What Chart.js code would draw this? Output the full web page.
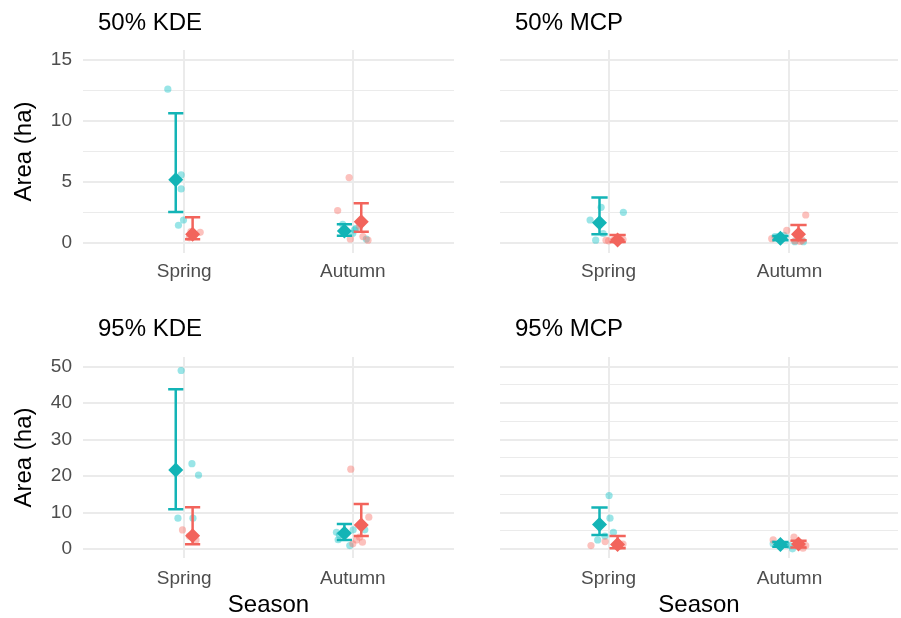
<!DOCTYPE html>
<html>
<head>
<meta charset="utf-8">
<script src="https://cdn.jsdelivr.net/npm/chart.js@4/dist/chart.umd.min.js"></script>
<style>
  body { margin: 0; background: #fff; }
  canvas { position: absolute; }
</style>
</head>
<body>
<canvas id="p0" width="460" height="300" style="left:0;top:0"></canvas>
<canvas id="p1" width="441" height="300" style="left:460px;top:0"></canvas>
<canvas id="p2" width="460" height="318" style="left:0;top:300px"></canvas>
<canvas id="p3" width="441" height="318" style="left:460px;top:300px"></canvas>
<script>
const seasons = ['Spring', 'Autumn']
const panelTitles = ['50% KDE', '50% MCP', '95% KDE', '95% MCP']

// individual values per panel, [spring, autumn]
const tealPts = [
  [[12.6, 5.56, 4.41, 1.86, 1.43], [1.18, 0.77, 0.3, 1.05, 1.5]],
  [[2.9, 1.86, 2.49, 0.2, 0.75], [0.08, 0.08, 0.5, 0.6, 0.5]],
  [[48.9, 23.4, 20.3, 8.5, 8.5], [4.65, 2.6, 1.0, 5.3, 5.3, 3.9]],
  [[14.7, 8.5, 4.65, 2.55, 3.6], [0.1, 1.5, 1.8, 1.2, 1.0]]
]
const tealJit = [
  [[-0.097, -0.018, -0.018, -0.004, -0.034], [0.02, 0.0, 0.08, 0.01, -0.06]],
  [[-0.041, -0.102, 0.082, -0.071, -0.03], [0.077, 0.03, -0.06, -0.03, -0.08]],
  [[-0.018, 0.046, 0.085, -0.037, 0.052], [-0.097, -0.087, -0.018, 0.002, 0.071, -0.08]],
  [[0.003, 0.008, 0.027, -0.06, -0.02], [0.017, -0.09, -0.05, -0.02, 0.0]]
]
const redPts = [
  [[0.85, 0.6, 0.4, 0.9], [5.34, 2.63, 0.3, 0.5, 0.2, 1.35]],
  [[0.2, 0.15, 0.3, 0.25, 0.22], [2.27, 0.33, 1.0, 0.1, 0.15, 0.2]],
  [[5.28, 3.5, 2.5, 3.6, 3.6], [21.9, 8.76, 1.92, 2.55, 1.5, 3.3]],
  [[1.0, 2.1, 0.8, 1.4, 1.2], [3.3, 2.55, 0.27, 1.5, 1.0]]
]
const redJit = [
  [[0.095, 0.06, 0.03, 0.04], [-0.022, -0.09, -0.015, 0.06, 0.09, 0.04]],
  [[-0.014, 0.0, 0.05, 0.08, 0.03], [0.09, -0.098, -0.015, 0.06, 0.03, 0.07]],
  [[-0.01, 0.05, 0.07, 0.03, 0.06], [-0.012, 0.095, 0.057, 0.022, 0.0, 0.04]],
  [[-0.097, -0.019, 0.06, 0.08, 0.04], [0.025, -0.09, 0.075, 0.05, 0.09]]
]

// means and intervals, [spring, autumn]
const tealMean = [[5.17, 0.96], [1.64, 0.36], [21.7, 4.35], [6.8, 1.3]]
const tealLo = [[2.52, 0.57], [0.69, 0.2], [10.95, 2.55], [3.9, 0.7]]
const tealHi = [[10.62, 1.51], [3.7, 0.55], [43.8, 6.93], [11.4, 2.0]]
const redMean = [[0.69, 1.72], [0.22, 0.68], [3.7, 6.65], [1.3, 1.4]]
const redLo = [[0.28, 0.9], [0.05, 0.2], [1.37, 3.64], [0.3, 0.5]]
const redHi = [[2.08, 3.23], [0.63, 1.45], [11.5, 12.4], [3.64, 2.35]]

const yTicksTop = [0, 2.5, 5, 7.5, 10, 12.5, 15]
const yTicksBottom = [0, 5, 10, 15, 20, 25, 30, 35, 40, 45, 50]

const TEAL = '#13B4B6'
const RED = '#F2645C'
const TEAL_A = 'rgba(0,191,196,0.4)'
const RED_A = 'rgba(248,118,109,0.45)'
const DODGE = 0.05
const CAP = 0.045

Chart.defaults.font.family = '"Liberation Sans", Arial, sans-serif'

function pointData(pts, jit, p){
  const out = []
  for (let s = 0; s < 2; s++) {
    pts[p][s].forEach((v, j) => out.push({x: s + 1 + jit[p][s][j], y: v}))
  }
  return out
}

function barData(lo, hi, p, dx){
  const out = []
  for (let s = 0; s < 2; s++) {
    const x = s + 1 + dx
    out.push({x: x, y: lo[p][s]}, {x: x, y: hi[p][s]}, {x: x, y: null})
    out.push({x: x - CAP, y: hi[p][s]}, {x: x + CAP, y: hi[p][s]}, {x: x, y: null})
    out.push({x: x - CAP, y: lo[p][s]}, {x: x + CAP, y: lo[p][s]}, {x: x, y: null})
  }
  return out
}

function meanData(mean, p, dx){
  return [{x: 1 + dx, y: mean[p][0]}, {x: 2 + dx, y: mean[p][1]}]
}

const titlePlugin = {
  id: 'panelTitle',
  afterDraw(chart, args, opts){
    const ctx = chart.ctx
    ctx.save()
    ctx.font = '24px "Liberation Sans", Arial, sans-serif'
    ctx.fillStyle = '#000'
    ctx.textBaseline = 'alphabetic'
    ctx.fillText(opts.text, chart.chartArea.left + 15, opts.baseline)
    ctx.restore()
  }
}

function makePanel(p){
  const left = p % 2 === 0
  const bottom = p >= 2
  const yTicks = bottom ? yTicksBottom : yTicksTop
  const major = bottom ? 10 : 5

  new Chart(document.getElementById('p' + p), {
    type: 'scatter',
    data: {
      datasets: [
        {data: pointData(tealPts, tealJit, p), backgroundColor: TEAL_A, borderWidth: 0, pointRadius: 3.6, order: 10},
        {data: pointData(redPts, redJit, p), backgroundColor: RED_A, borderWidth: 0, pointRadius: 3.6, order: 9},
        {data: barData(tealLo, tealHi, p, -DODGE), showLine: true, spanGaps: false, borderColor: TEAL, borderWidth: 2.5, borderCapStyle: 'butt', pointRadius: 0, order: 4},
        {data: meanData(tealMean, p, -DODGE), pointStyle: 'rectRot', pointRadius: 7.5, backgroundColor: TEAL, borderWidth: 0, order: 3},
        {data: barData(redLo, redHi, p, DODGE), showLine: true, spanGaps: false, borderColor: RED, borderWidth: 2.5, borderCapStyle: 'butt', pointRadius: 0, order: 2},
        {data: meanData(redMean, p, DODGE), pointStyle: 'rectRot', pointRadius: 7.5, backgroundColor: RED, borderWidth: 0, order: 1}
      ]
    },
    options: {
      responsive: false,
      animation: false,
      layout: {
        autoPadding: false,
        padding: {top: bottom ? 57 : 50, right: left ? 6 : 3, left: 0, bottom: 0}
      },
      plugins: {
        legend: {display: false},
        tooltip: {enabled: false},
        panelTitle: {text: panelTitles[p], baseline: bottom ? 36 : 30}
      },
      scales: {
        x: {
          type: 'linear',
          min: 0.4,
          max: 2.6,
          afterBuildTicks: s => { s.ticks = [{value: 1}, {value: 2}] },
          afterFit: s => { s.height = bottom ? 60 : 47 },
          ticks: {
            callback: v => seasons[Math.round(v) - 1],
            color: '#4d4d4d',
            font: {size: 19},
            padding: bottom ? 9 : 7,
            maxRotation: 0,
            autoSkip: false
          },
          grid: {color: '#EBEBEB', lineWidth: 2, drawTicks: false},
          border: {display: false},
          title: {
            display: bottom,
            text: 'Season',
            color: '#000',
            font: {size: 24, lineHeight: 1},
            padding: {top: 0, bottom: 1}
          }
        },
        y: {
          min: bottom ? -2.4 : -0.85,
          max: bottom ? 52.6 : 15.82,
          afterBuildTicks: s => { s.ticks = yTicks.map(v => ({value: v})) },
          afterFit: s => { s.width = left ? 83 : 40 },
          ticks: {
            display: left,
            callback: v => (v % major === 0 ? v : ''),
            color: '#4d4d4d',
            font: {size: 19},
            padding: 11
          },
          grid: {
            color: '#EBEBEB',
            lineWidth: c => (c.tick && c.tick.value % major === 0 ? 2 : 1),
            drawTicks: false
          },
          border: {display: false},
          title: {
            display: left,
            text: 'Area (ha)',
            color: '#000',
            font: {size: 24, lineHeight: 1.2},
            padding: {top: 10, bottom: 0}
          }
        }
      }
    },
    plugins: [titlePlugin]
  })
}

for (let p = 0; p < 4; p++) makePanel(p)
</script>
</body>
</html>
